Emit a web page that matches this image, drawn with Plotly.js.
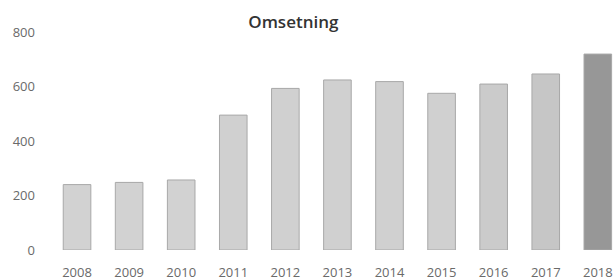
<!DOCTYPE html>
<html>
<head>
<meta charset="utf-8">
<script src="https://cdn.plot.ly/plotly-3.0.1.min.js"></script>
<style>html,body{margin:0;padding:0;background:#fff;}#chart{width:615px;height:280px;}</style>
</head>
<body>
<div id="chart"></div>
<script>
const years = ["2008","2009","2010","2011","2012","2013","2014","2015","2016","2017","2018"];
const omsetning = [240, 248, 257, 495, 593, 624, 618, 575, 609, 646, 719];
const barColors = ["#d2d2d2","#d2d2d2","#d2d2d2","#d0d0d0","#d0d0d0","#d0d0d0","#d0d0d0","#d0d0d0","#cbcbcb","#c6c6c6","#979797"];
const yTicks = [0, 200, 400, 600, 800];

Plotly.newPlot("chart", [{
  type: "bar",
  x: years,
  y: omsetning,
  width: 0.53,
  marker: {
    color: barColors,
    line: {color: "#a8a8a8", width: 1}
  },
  hoverinfo: "none"
}], {
  width: 615, height: 280,
  margin: {l: 51, r: 0, t: 32, b: 30},
  paper_bgcolor: "#fff", plot_bgcolor: "#fff",
  showlegend: false,
  title: {text: "Omsetning", x: 0.477, xanchor: "center", y: 0.92, yanchor: "middle",
          font: {family: "Open Sans", size: 17, color: "#333", weight: 600}},
  xaxis: {type: "category", range: [-0.5, 10.33], showgrid: false, zeroline: false, showline: false,
          ticks: "", tickfont: {family: "Open Sans", size: 13, color: "#6a6a6a"}, ticklabelstandoff: 13},
  yaxis: {range: [0, 800], tickvals: yTicks, showgrid: false, zeroline: false, showline: false,
          ticks: "", tickfont: {family: "Open Sans", size: 13, color: "#6a6a6a"}, ticklabelstandoff: 15}
}, {displayModeBar: false, staticPlot: true});
</script>
</body>
</html>
